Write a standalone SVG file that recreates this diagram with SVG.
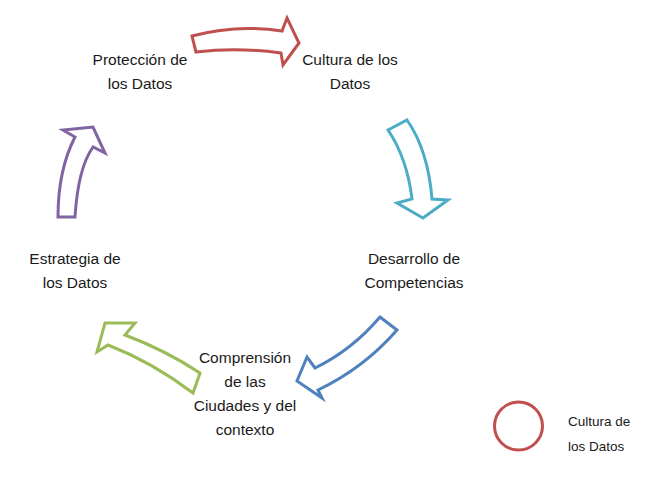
<svg xmlns="http://www.w3.org/2000/svg" width="650" height="488" viewBox="0 0 650 488">
<style>
.lbl{font-family:"Liberation Sans",Arial,sans-serif;font-size:15.5px;fill:#1a1a1a;text-anchor:middle}
.leg{font-family:"Liberation Sans",Arial,sans-serif;font-size:13.5px;fill:#1a1a1a}
.arr{fill:#fff;stroke-width:3;stroke-linejoin:miter}
</style>
<rect width="650" height="488" fill="#fff"/>
<g id="connectors">
<path class="arr" stroke="#c0504d" d="M192,36 Q236,24 282,31 L287,18 L299,43 L283,65 L281,53 Q238,47 196,52 Z"/>
<path class="arr" stroke="#4bacc6" d="M388,130 L407,120 Q428,150 432,199 L448,200 L423,218 L397,203 L412,199 Q407,158 388,130 Z"/>
<path class="arr" stroke="#4f81bd" d="M380,317 L397,330 Q364,368 318,390 L322,398 L297,381 L307,357 L315,368 Q352,350 380,317 Z"/>
<path class="arr" stroke="#9bbb59" d="M105,323 L135,323 L125,335 Q165,350 200,373 L193,393 Q152,362 108,345 L97,352 Z"/>
<path class="arr" stroke="#8064a2" d="M58,217 L75,217 Q78,168 93,147 L105,153 L93,127 L63,130 L75,137 Q58,170 58,217 Z"/>
</g>
<g id="node-proteccion"><text class="lbl" x="140" y="65">Protección de</text><text class="lbl" x="140" y="89">los Datos</text></g>
<g id="node-cultura"><text class="lbl" x="350" y="65">Cultura de los</text><text class="lbl" x="350" y="89">Datos</text></g>
<g id="node-desarrollo"><text class="lbl" x="414" y="264">Desarrollo de</text><text class="lbl" x="414" y="288">Competencias</text></g>
<g id="node-estrategia"><text class="lbl" x="75" y="264">Estrategia de</text><text class="lbl" x="75" y="288">los Datos</text></g>
<g id="node-comprension"><text class="lbl" x="245" y="363">Comprensión</text><text class="lbl" x="245" y="387">de las</text><text class="lbl" x="245" y="411">Ciudades y del</text><text class="lbl" x="245" y="435">contexto</text></g>
<g id="legend"><circle cx="518.5" cy="426" r="24" fill="none" stroke="#c0504d" stroke-width="3"/><text class="leg" x="568" y="426">Cultura de</text><text class="leg" x="568" y="451">los Datos</text></g>
</svg>
